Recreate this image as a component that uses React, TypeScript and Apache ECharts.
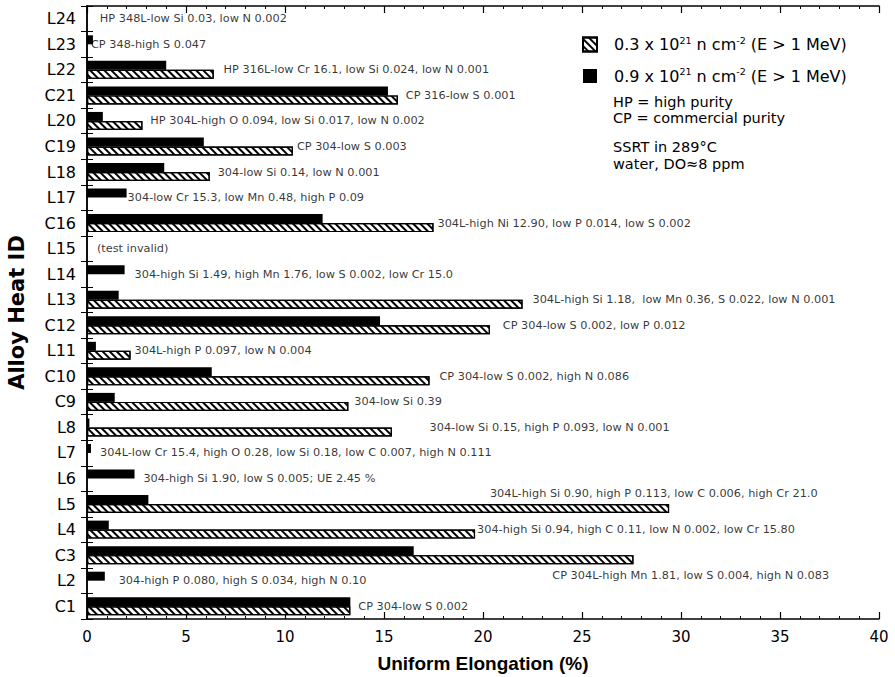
import React, { useEffect, useRef } from "react";
import * as echarts from "echarts";

const categories = ["C1","L2","C3","L4","L5","L6","L7","L8","C9","C10","L11","C12","L13","L14","L15","C16","L17","L18","C19","L20","C21","L22","L23","L24"];

// 0.3 x 10^21 n/cm2 (hatched)
const fluenceLow: (number | null)[] = [13.3, null, 27.6, 19.6, 29.4, null, null, 15.4, 13.2, 17.3, 2.2, 20.35, 22.0, null, null, 17.5, null, 6.2, 10.4, 2.8, 15.7, 6.4, null, null];
// 0.9 x 10^21 n/cm2 (black)
const fluenceHigh: (number | null)[] = [13.3, 0.9, 16.5, 1.1, 3.1, 2.4, 0.2, 0.12, 1.4, 6.3, 0.45, 14.8, 1.6, 1.9, null, 11.9, 2.0, 3.9, 5.9, 0.8, 15.2, 4.0, 0.3, null];

const notes = [
  "CP 304-low S 0.002",
  "304-high P 0.080, high S 0.034, high N 0.10",
  "CP 304L-high Mn 1.81, low S 0.004, high N 0.083",
  "304-high Si 0.94, high C 0.11, low N 0.002, low Cr 15.80",
  "304L-high Si 0.90, high P 0.113, low C 0.006, high Cr 21.0",
  "304-high Si 1.90, low S 0.005; UE 2.45 %",
  "304L-low Cr 15.4, high O 0.28, low Si 0.18, low C 0.007, high N 0.111",
  "304-low Si 0.15, high P 0.093, low N 0.001",
  "304-low Si 0.39",
  "CP 304-low S 0.002, high N 0.086",
  "304L-high P 0.097, low N 0.004",
  "CP 304-low S 0.002, low P 0.012",
  "304L-high Si 1.18,  low Mn 0.36, S 0.022, low N 0.001",
  "304-high Si 1.49, high Mn 1.76, low S 0.002, low Cr 15.0",
  "(test invalid)",
  "304L-high Ni 12.90, low P 0.014, low S 0.002",
  "304-low Cr 15.3, low Mn 0.48, high P 0.09",
  "304-low Si 0.14, low N 0.001",
  "CP 304-low S 0.003",
  "HP 304L-high O 0.094, low Si 0.017, low N 0.002",
  "CP 316-low S 0.001",
  "HP 316L-low Cr 16.1, low Si 0.024, low N 0.001",
  "CP 348-high S 0.047",
  "HP 348L-low Si 0.03, low N 0.002",
];
// elongation value (%) at which each note starts
const noteAt = [13.7, 1.6, 23.5, 19.7, 20.35, 2.85, 0.66, 17.3, 13.5, 17.8, 2.4, 21.0, 22.5, 2.4, 0.5, 17.7, 2.05, 6.6, 10.6, 3.2, 16.1, 6.9, 0.2, 0.65];

const xTicks = { min: 0, max: 40, interval: 5 };
const lowName = "0.3 x 10^21 n cm^-2 (E > 1 MeV)";
const highName = "0.9 x 10^21 n cm^-2 (E > 1 MeV)";
const sideText = ["HP = high purity", "CP = commercial purity", "SSRT in 289°C", "water, DO≈8 ppm"];

const FONT = "'DejaVu Sans', 'Liberation Sans', Arial, sans-serif";
const FONT_B = "'Liberation Sans', Arial, sans-serif";

export default function App() {
  const ref = useRef<HTMLDivElement>(null);
  useEffect(() => {
    if (!ref.current) return;
    const chart = echarts.init(ref.current, null, { renderer: "svg" });
    const noteShift: Record<string, number> = { L5: -11, C3: 20 };
    const axisLine = { show: true, lineStyle: { color: "#000", width: 1.5 } };
    const option: any = {
      animation: false,
      backgroundColor: "#fff",
      textStyle: { fontFamily: FONT },
      grid: { left: 87, right: 16, top: 6, bottom: 58, containLabel: false, outerBoundsMode: "none" },
      legend: {
        data: [lowName, highName],
        orient: "vertical",
        left: 577,
        top: 30,
        icon: "rect",
        itemWidth: 14,
        itemHeight: 14,
        itemGap: 14,
        selectedMode: false,
        formatter: (n: string) =>
          n === lowName
            ? "0.3 x 10{sup|21} n cm{sup|-2} (E > 1 MeV)"
            : "0.9 x 10{sup|21} n cm{sup|-2} (E > 1 MeV)",
        textStyle: {
          fontSize: 16,
          color: "#000",
          fontFamily: FONT,
          padding: [0, 0, 0, 12],
          rich: {
            sup: { fontSize: 9.5, verticalAlign: "top", padding: [0, 0, 9, 0], fontFamily: FONT, color: "#000" },
          },
        },
      },
      xAxis: [
        {
          type: "value",
          ...xTicks,
          name: "Uniform Elongation (%)",
          nameLocation: "middle",
          nameGap: 35,
          nameTextStyle: { fontSize: 19, fontWeight: "bold", color: "#000", fontFamily: FONT_B },
          axisLine,
          axisTick: { show: true, inside: true, length: 7, lineStyle: { color: "#000", width: 1.2 } },
          minorTick: { show: true, splitNumber: 5, length: 3, lineStyle: { color: "#000" } },
          axisLabel: { fontSize: 15, color: "#000", margin: 10, fontFamily: FONT },
          splitLine: { show: false },
        },
        {
          type: "value",
          ...xTicks,
          position: "top",
          axisLine,
          axisTick: { show: true, inside: true, length: 7, lineStyle: { color: "#000", width: 1.2 } },
          minorTick: { show: true, splitNumber: 5, length: 3, lineStyle: { color: "#000" } },
          axisLabel: { show: false },
          splitLine: { show: false },
        },
      ],
      yAxis: [
        {
          type: "category",
          data: categories,
          name: "Alloy Heat ID",
          nameLocation: "middle",
          nameGap: 60,
          nameTextStyle: { fontSize: 21, fontWeight: "bold", color: "#000", fontFamily: FONT },
          axisLine,
          axisTick: { show: true, inside: true, length: 6, lineStyle: { color: "#000" } },
          axisLabel: { fontSize: 16, color: "#000", margin: 11, fontFamily: FONT },
        },
        {
          type: "category",
          data: categories,
          position: "right",
          axisLine,
          axisTick: { show: true, inside: true, length: 6, lineStyle: { color: "#000" } },
          axisLabel: { show: false },
        },
      ],
      series: [
        {
          name: highName,
          type: "bar",
          data: fluenceHigh,
          barWidth: 9,
          barGap: "0%",
          itemStyle: { color: "#000" },
        },
        {
          name: lowName,
          type: "bar",
          data: fluenceLow,
          barWidth: 9,
          barGap: "0%",
          itemStyle: {
            color: "#fff",
            borderColor: "#000",
            borderWidth: 1.2,
            decal: {
              symbol: "rect",
              symbolSize: 1,
              color: "#000",
              dashArrayX: [1, 0],
              dashArrayY: [2, 3],
              rotation: Math.PI / 4,
            },
          },
        },
        {
          name: "notes",
          type: "scatter",
          symbolSize: 0,
          silent: true,
          data: categories.map((c, i) => ({
            value: [noteAt[i], c],
            label: { offset: [0, noteShift[c] || 0] },
          })),
          label: {
            show: true,
            position: "right",
            distance: 0,
            fontSize: 11.3,
            color: "#000",
            fontFamily: FONT,
            formatter: (p: any) => notes[p.dataIndex],
          },
        },
      ],
      graphic: sideText.map((t, i) => ({
        type: "text",
        left: 613,
        top: [94, 110, 139, 156][i],
        style: { text: t, fontSize: 14.5, fill: "#000", fontFamily: FONT },
      })),
    };
    chart.setOption(option);
    return () => chart.dispose();
  }, []);
  return (
    <div
      ref={ref}
      style={{ position: "fixed", left: 0, top: 0, width: 895, height: 677, background: "#fff" }}
    />
  );
}
